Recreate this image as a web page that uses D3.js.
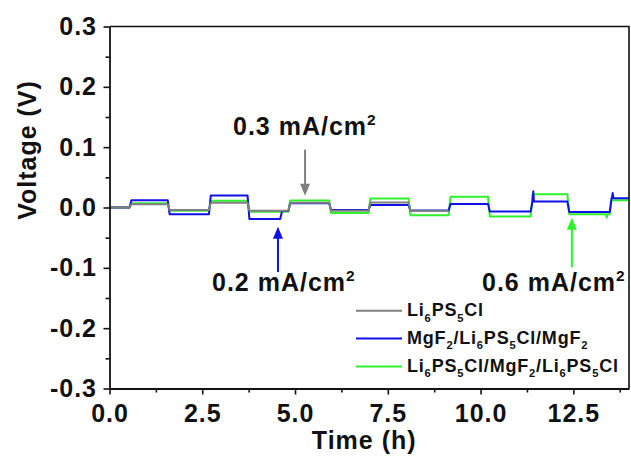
<!DOCTYPE html>
<html>
<head>
<meta charset="utf-8">
<script src="https://cdn.jsdelivr.net/npm/d3@7"></script>
<style>
  html, body { margin: 0; padding: 0; background: #fff; }
  svg { display: block; }
  text { font-family: "Liberation Sans", Arial, sans-serif; font-weight: bold; fill: #111; }
</style>
</head>
<body>
<svg id="chart" width="631" height="462"></svg>
<script>
// Segment boundaries of the galvanostatic cycling schedule (h)
const segmentTimes = [0, 0.54, 1.57, 2.68, 3.72, 4.6, 4.82, 5.92, 6.98, 8.06, 9.14, 10.2, 11.35, 12.34, 13.48, 14.0];

// Plateau voltage of each segment (V)
const grayValues  = [0, 0.0055, -0.004, 0.008, -0.0055, -0.0055, 0.008, -0.0055, 0.0083, -0.0055];
const blueValues  = [0, 0.012, -0.011, 0.020, -0.019, -0.006, 0.007, -0.004, 0.004, -0.005, 0.006, -0.0067, 0.010, -0.0075, 0.0155];
const greenValues = [0, 0.007, -0.0055, 0.011, -0.007, -0.007, 0.0117, -0.009, 0.015, -0.0127, 0.018, -0.015, 0.022, -0.011, 0.012];

// Short overshoots at some current switches: [time, voltage]
const blueSpikes  = [[11.42, 0.027], [13.56, 0.024]];
const greenSpikes = [[13.40, -0.017]];

const seriesNames  = ["Li_6PS_5Cl", "MgF_2/Li_6PS_5Cl/MgF_2", "Li_6PS_5Cl/MgF_2/Li_6PS_5Cl"];
const seriesColors = ["#7f7f7f", "#1010e8", "#2cf22c"];

const xTicks = [0, 2.5, 5, 7.5, 10, 12.5];
const yTicks = [-0.3, -0.2, -0.1, 0, 0.1, 0.2, 0.3];

// Current-density annotations: arrow at time t from tail to tip (V)
const annotations = [
  { label: "0.3 mA/cm^2", t: 5.27,  tail: 0.096,  tip: 0.0195, color: "#7f7f7f", lx: 233, ly: 135 },
  { label: "0.2 mA/cm^2", t: 4.54,  tail: -0.107, tip: -0.032, color: "#1010e8", lx: 212, ly: 291 },
  { label: "0.6 mA/cm^2", t: 12.46, tail: -0.099, tip: -0.017, color: "#2cf22c", lx: 482, ly: 291 }
];

const svg = d3.select("#chart");
const M = { left: 109.5, right: 629, top: 26.5, bottom: 388.5 };

const x = d3.scaleLinear().domain([0, 14]).range([M.left, M.right]);
const y = d3.scaleLinear().domain([-0.3, 0.3]).range([M.bottom, M.top]);

function segmentValue(values, t) {
  const i = d3.bisectRight(segmentTimes, t) - 1;
  return values[Math.max(0, Math.min(values.length - 1, i))];
}

// Turn segment plateaus into a polyline with short ramps at each switch
function buildPoints(values, spikes) {
  const ramp = 0.05, w = 0.02;
  const pts = [];
  values.forEach((v, i) => {
    const t0 = segmentTimes[i], t1 = segmentTimes[i + 1];
    pts.push([i === 0 ? t0 : t0 + ramp, v]);
    pts.push([t1, v]);
  });
  (spikes || []).forEach(s => {
    const base = segmentValue(values, s[0]);
    pts.push([s[0] - w, base], s, [s[0] + w, base]);
  });
  pts.sort((a, b) => a[0] - b[0]);
  return pts;
}

const seriesData = [
  buildPoints(grayValues),
  buildPoints(blueValues, blueSpikes),
  buildPoints(greenValues, greenSpikes)
];

const line = d3.line().x(d => x(d[0])).y(d => y(d[1]));

// draw order: green, blue, gray on top
[2, 1, 0].forEach(i => {
  svg.append("path")
    .datum(seriesData[i])
    .attr("fill", "none")
    .attr("stroke", seriesColors[i])
    .attr("stroke-width", 2)
    .attr("stroke-linejoin", "round")
    .attr("d", line);
});

// Frame: top and right edges
svg.append("path")
  .attr("d", `M${M.left},${M.top}H${M.right}V${M.bottom}`)
  .attr("fill", "none").attr("stroke", "#111").attr("stroke-width", 1.6);

const fmt = d => d3.format(".1f")(d).replace("\u2212", "-");

// Minor ticks
const xMinor = d3.range(1.25, 14, 2.5);
const yMinor = d3.range(-0.25, 0.3, 0.1);

svg.append("g").attr("transform", `translate(0,${M.bottom})`)
  .call(d3.axisBottom(x).tickValues(xMinor).tickSize(4).tickFormat(""))
  .call(g => g.select(".domain").remove())
  .call(g => g.selectAll("line").attr("stroke", "#111").attr("stroke-width", 1.6));

svg.append("g").attr("transform", `translate(${M.left},0)`)
  .call(d3.axisLeft(y).tickValues(yMinor).tickSize(4).tickFormat(""))
  .call(g => g.select(".domain").remove())
  .call(g => g.selectAll("line").attr("stroke", "#111").attr("stroke-width", 1.6));

// Major axes
const xAxis = svg.append("g").attr("transform", `translate(0,${M.bottom})`)
  .call(d3.axisBottom(x).tickValues(xTicks).tickSize(6).tickSizeOuter(0).tickPadding(10).tickFormat(fmt));
const yAxis = svg.append("g").attr("transform", `translate(${M.left},0)`)
  .call(d3.axisLeft(y).tickValues(yTicks).tickSize(6).tickSizeOuter(0).tickPadding(6.5).tickFormat(fmt));

[xAxis, yAxis].forEach(g => {
  g.select(".domain").attr("stroke", "#111").attr("stroke-width", 1.8);
  g.selectAll("line").attr("stroke", "#111").attr("stroke-width", 1.6);
  g.selectAll("text")
    .attr("font-family", '"Liberation Sans", Arial, sans-serif')
    .attr("font-weight", "bold")
    .attr("font-size", 25)
    .attr("fill", "#111")
    .style("letter-spacing", "1px");
});

// Axis titles
svg.append("text")
  .attr("transform", "translate(36,150) rotate(-90)")
  .attr("text-anchor", "middle")
  .attr("font-size", 25)
  .style("letter-spacing", "1px")
  .text("Voltage (V)");

svg.append("text")
  .attr("x", (M.left + M.right) / 2 - 5)
  .attr("y", 449)
  .attr("text-anchor", "middle")
  .attr("font-size", 25)
  .style("letter-spacing", "1px")
  .text("Time (h)");

// Writes a label with _x subscripts and ^x superscripts as tspans
function richText(sel, str, size) {
  const parts = str.split(/([_^]\d)/).filter(s => s.length);
  let pending = 0;
  parts.forEach(p => {
    if (p[0] === "_" || p[0] === "^") {
      const shift = p[0] === "_" ? size * 0.3 : -size * 0.4;
      sel.append("tspan").attr("dy", pending + shift).attr("font-size", size * 0.62).text(p[1]);
      pending = -shift;
    } else {
      sel.append("tspan").attr("dy", pending).text(p);
      pending = 0;
    }
  });
}

// Annotations
annotations.forEach(a => {
  const ax = x(a.t), yTail = y(a.tail), yTip = y(a.tip);
  const dir = yTip > yTail ? 1 : -1;
  const head = 12, half = 5;
  svg.append("line")
    .attr("x1", ax).attr("x2", ax)
    .attr("y1", yTail).attr("y2", yTip - dir * head * 0.8)
    .attr("stroke", a.color).attr("stroke-width", 2);
  svg.append("path")
    .attr("d", `M${ax},${yTip}L${ax - half},${yTip - dir * head}L${ax + half},${yTip - dir * head}Z`)
    .attr("fill", a.color);
  const t = svg.append("text")
    .attr("x", a.lx).attr("y", a.ly)
    .attr("font-size", 25)
    .style("letter-spacing", "1px");
  richText(t, a.label, 25);
});

// Legend
const legendRows = [310.7, 338.5, 366.5];
seriesNames.forEach((name, i) => {
  const ly = legendRows[i];
  svg.append("line")
    .attr("x1", 356).attr("x2", 402)
    .attr("y1", ly).attr("y2", ly)
    .attr("stroke", seriesColors[i]).attr("stroke-width", 2);
  const t = svg.append("text")
    .attr("x", 407).attr("y", ly + 5.5)
    .attr("font-size", 18)
    .style("letter-spacing", "0.8px");
  richText(t, name, 18);
});
</script>
</body>
</html>
